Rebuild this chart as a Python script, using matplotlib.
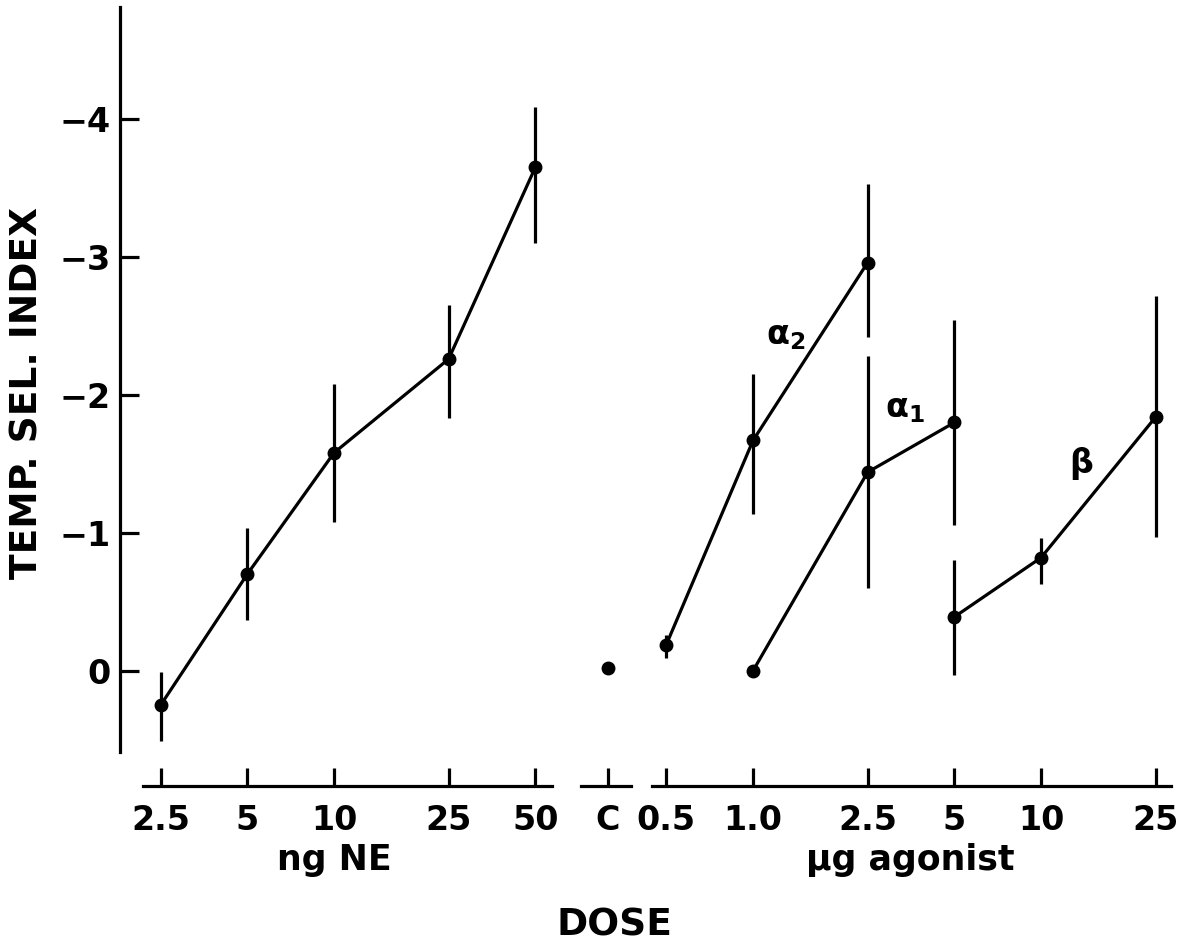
import numpy as np
import matplotlib
matplotlib.use('Agg')
from matplotlib import pyplot as plt

plt.rcParams['font.family'] = ['DejaVu Sans']
plt.rcParams['font.weight'] = 'bold'
plt.rcParams['mathtext.fontset'] = 'dejavusans'
plt.rcParams['mathtext.default'] = 'bf'

# NE (ng)
ne_dose = [2.5, 5, 10, 25, 50]
ne_val = [0.25, -0.70, -1.58, -2.26, -3.65]
ne_top = [0.01, -1.035, -2.08, -2.65, -4.09]
ne_bot = [0.51, -0.37, -1.08, -1.83, -3.10]

# kontrola
ctrl_val = -0.02

# agonisty (ug)
a2_dose = [0.5, 1.0, 2.5]
a2_val = [-0.19, -1.67, -2.96]
a2_top = [-0.26, -2.15, -3.53]
a2_bot = [-0.09, -1.14, -2.42]

a1_dose = [1.0, 2.5, 5]
a1_val = [0.0, -1.44, -1.80]
a1_top = [0.0, -2.28, -2.54]
a1_bot = [0.0, -0.60, -1.06]

b_dose = [5, 10, 25]
b_val = [-0.39, -0.82, -1.84]
b_top = [-0.80, -0.96, -2.72]
b_bot = [0.03, -0.63, -0.97]

ne_ticks = ['2.5', '5', '10', '25', '50']
ag_doses = [0.5, 1.0, 2.5, 5, 10, 25]
ag_ticks = ['0.5', '1.0', '2.5', '5', '10', '25']

# os x: log10 dawki, agonisty przesuniete w prawo
shift = 2.455
ctrl_pos = 1.95


def pos_ne(d):
    return np.log10(d)


def pos_ag(d):
    return np.log10(d) + shift


fig = plt.figure(figsize=(11.9, 9.41), dpi=100)
rect = [120 / 1190, 155 / 941, 1055 / 1190, 779 / 941]
xlim = (0.257, 3.920)
ylim = (0.836, -4.813)

ax = fig.add_axes(rect)
lw = 2.3


def seria(x, val, top, bot):
    val = np.array(val)
    yerr = [val - np.array(top), np.array(bot) - val]
    ax.errorbar(x, val, yerr=yerr, fmt='-o', color='black', lw=lw,
                elinewidth=lw, ms=9, capsize=0)


seria(pos_ne(ne_dose), ne_val, ne_top, ne_bot)
seria(pos_ag(a2_dose), a2_val, a2_top, a2_bot)
seria(pos_ag(a1_dose), a1_val, a1_top, a1_bot)
seria(pos_ag(b_dose), b_val, b_top, b_bot)
ax.plot([ctrl_pos], [ctrl_val], 'o', color='black', ms=9)

ax.set_xlim(*xlim)
ax.set_ylim(*ylim)
for s in ['top', 'right']:
    ax.spines[s].set_visible(False)
ax.spines['left'].set_linewidth(lw)
ax.spines['left'].set_bounds(0.59, -4.813)
ax.set_yticks([0, -1, -2, -3, -4])
ax.tick_params(axis='y', direction='in', length=14, width=lw, labelsize=24, pad=7)

# dolna os w trzech kawalkach
segs = [(0.338, 1.756, pos_ne(ne_dose), ne_ticks),
        (1.857, 2.031, [ctrl_pos], ['C']),
        (2.105, 3.905, pos_ag(ag_doses), ag_ticks)]
for i, (a, b, t, lab) in enumerate(segs):
    if i == 0:
        axx = ax
    else:
        axx = fig.add_axes(rect, facecolor='none')
        axx.set_xlim(*xlim)
        axx.set_ylim(*ylim)
        for s in ['top', 'right', 'left']:
            axx.spines[s].set_visible(False)
        axx.set_yticks([])
    axx.spines['bottom'].set_bounds(a, b)
    axx.spines['bottom'].set_linewidth(lw)
    axx.set_xticks(t)
    axx.set_xticklabels(lab)
    axx.tick_params(axis='x', direction='in', length=13, width=lw, labelsize=24, pad=13)

tr = ax.get_xaxis_transform()
ax.text(1.0, -0.095, 'ng NE', transform=tr, ha='center', va='center', fontsize=25)
ax.text(3.0, -0.095, 'µg agonist', transform=tr, ha='center', va='center', fontsize=25)
fig.text(0.516, 0.017, 'DOSE', ha='center', va='center', fontsize=27)
fig.text(0.023, 0.582, 'TEMP. SEL. INDEX', rotation=90, ha='center', va='center', fontsize=27)

ax.text(2.569, -2.434, r'$α_{2}$', ha='center', va='center', fontsize=24)
ax.text(2.982, -1.905, r'$α_{1}$', ha='center', va='center', fontsize=24)
ax.text(3.594, -1.506, 'β', ha='center', va='center', fontsize=24)

fig.savefig('out.png', dpi=100)
